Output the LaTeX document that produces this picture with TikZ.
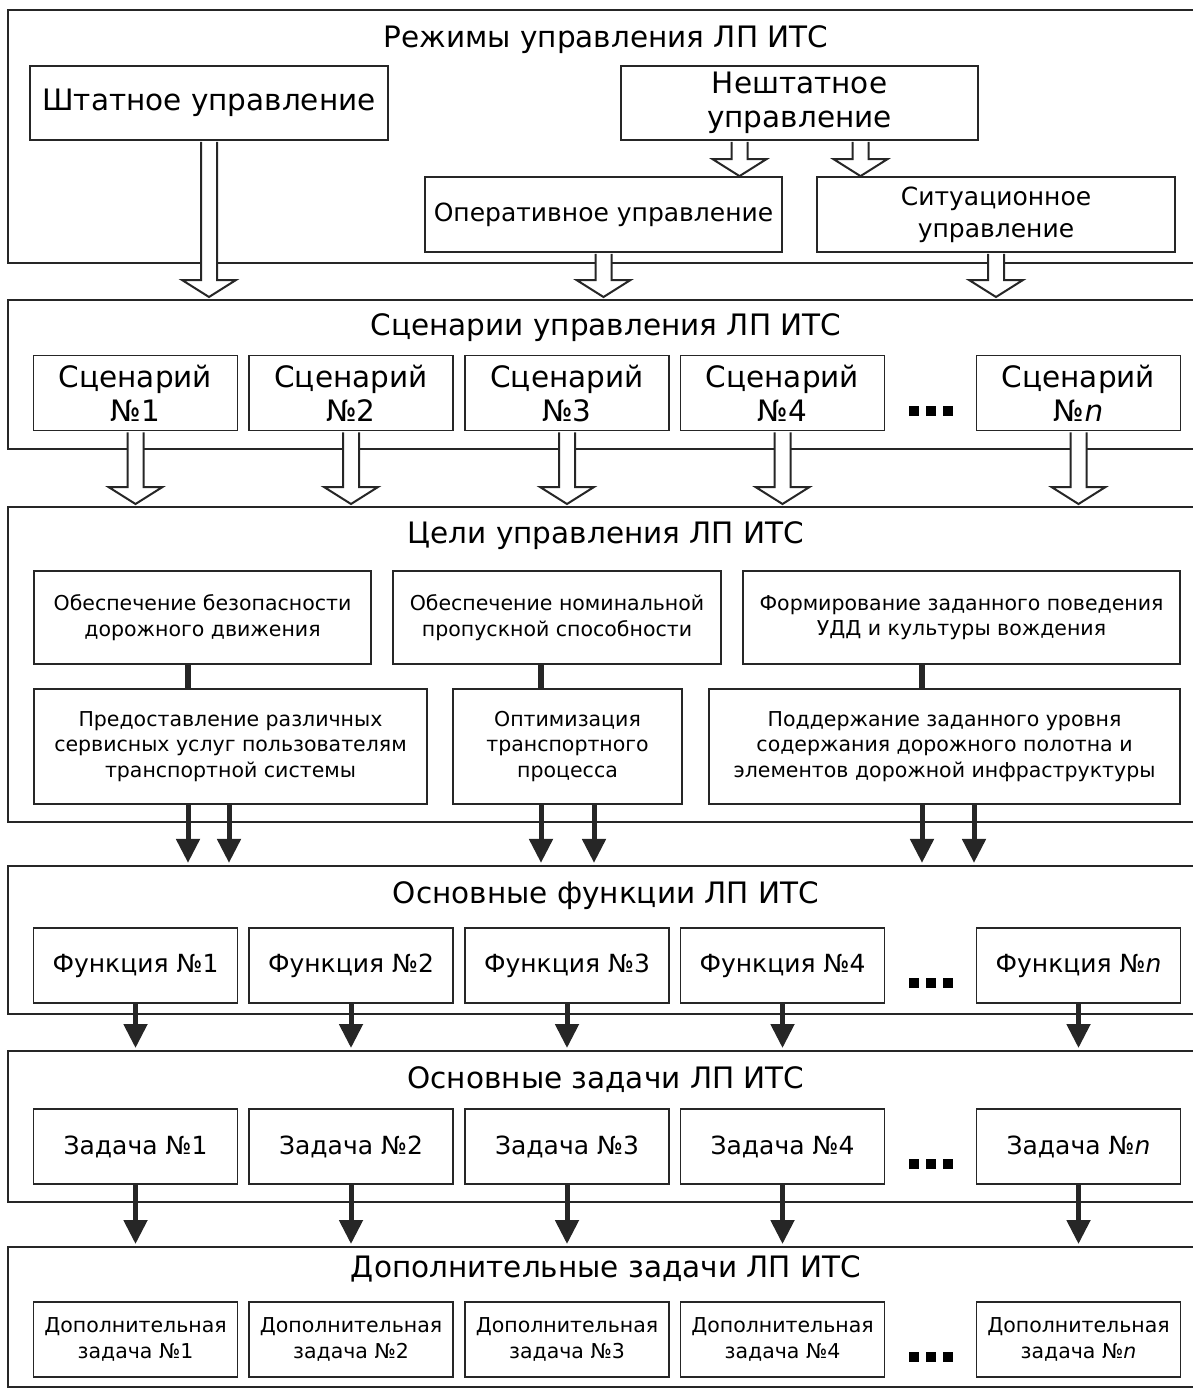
\documentclass[tikz,border=0pt]{standalone}
\usepackage{fontspec}
\setmainfont{DejaVu Sans}
\usetikzlibrary{arrows.meta,calc}

\tikzset{
  secframe/.style={draw=black!85, line width=1.8pt},
  sectitle/.style={font=\fontsize{29.5}{34}\selectfont, anchor=base},
  box/.style={draw=black!85, line width=1.8pt, inner sep=0pt, align=center},
  bigbox/.style={box, font=\fontsize{29.5}{34}\selectfont},
  midbox/.style={box, font=\fontsize{25}{32}\selectfont},
  goalbox/.style={box, font=\fontsize{20.5}{25.5}\selectfont},
  rowbox/.style={box, minimum width=204pt, minimum height=75pt},
  hollow/.style={draw=black!85, line width=2pt, fill=white, line join=miter},
  link/.style={draw=black!85, line width=6pt},
  blackarr/.style={draw=black!85, line width=5pt, -{Triangle[length=24pt, width=23pt]}},
}

% block arrow from #1 down to the height of #2
\newcommand{\hollowarrow}[2]{%
  \draw[hollow] let \p1=#1, \p2=#2 in
    (\x1-8pt,\y1-0.9pt) -- (\x1-8pt,\y2+17pt) -- (\x1-27pt,\y2+17pt) -- (\x1,\y2)
    -- (\x1+27pt,\y2+17pt) -- (\x1+8pt,\y2+17pt) -- (\x1+8pt,\y1-0.9pt);}
% three squares
\newcommand{\sqdots}[1]{%
  \foreach \dx in {914,931,948}
    {\fill[black] (\dx-5,#1-5) rectangle (\dx+5,#1+5);}}

\begin{document}
\begin{tikzpicture}[x=1pt, y=-1pt]
  \useasboundingbox (0,0) rectangle (1193,1389);

  % Section frames
  \draw[secframe] (1193,10) -| (8,263) -- (1193,263);
  \draw[secframe] (1193,300) -| (8,449) -- (1193,449);
  \draw[secframe] (1193,507) -| (8,822) -- (1193,822);
  \draw[secframe] (1193,866) -| (8,1014) -- (1193,1014);
  \draw[secframe] (1193,1051) -| (8,1202) -- (1193,1202);
  \draw[secframe] (1193,1247) -| (8,1387) -- (1193,1387);
  \coordinate (t2) at (0,297);
  \coordinate (t3) at (0,504);
  \coordinate (t4) at (0,863);
  \coordinate (t5) at (0,1048);
  \coordinate (t6) at (0,1244);

  % Modes
  \node[sectitle] (modes) at (606,48) {Режимы управления ЛП ИТС};
  \node[bigbox, minimum width=358pt, minimum height=74pt] (shtat) at (209,103) {Штатное управление};
  \node[bigbox, minimum width=357pt, minimum height=74pt] (nesht) at (799.5,103) {Нештатное\\управление};
  \node[midbox, minimum width=357pt, minimum height=75pt] (oper) at (603.5,214.5) {Оперативное управление};
  \node[midbox, minimum width=358pt, minimum height=75pt] (sit) at (996,214.5) {Ситуационное\\управление};
  \hollowarrow{([xshift=-60pt]nesht.south)}{(oper.north)}
  \hollowarrow{([xshift=61pt]nesht.south)}{(sit.north)}
  \hollowarrow{(shtat.south)}{(t2)}
  \hollowarrow{(oper.south)}{(t2)}
  \hollowarrow{(sit.south)}{(t2)}

  % Scenarios
  \node[sectitle] (scens) at (606,335) {Сценарии управления ЛП ИТС};
  \foreach \i/\x in {1/135.5,2/351,3/567,4/782.5}
    {\node[rowbox, bigbox] (sc\i) at (\x,393) {Сценарий\\№\i};}
  \node[rowbox, bigbox] (scn) at (1078.5,393) {Сценарий\\№\textit{n}};
  \sqdots{411}
  \foreach \i in {1,2,3,4,n}
    {\hollowarrow{(sc\i.south)}{(t3)}}

  % Goals
  \node[sectitle] (goals) at (606,543) {Цели управления ЛП ИТС};
  \node[goalbox, minimum width=337pt, minimum height=93pt] (g1) at (202.5,617.5) {Обеспечение безопасности\\дорожного движения};
  \node[goalbox, minimum width=328pt, minimum height=93pt] (g2) at (557,617.5) {Обеспечение номинальной\\пропускной способности};
  \node[goalbox, minimum width=437pt, minimum height=93pt] (g3) at (961.5,617.5) {Формирование заданного поведения\\УДД и культуры вождения};
  \node[goalbox, minimum width=393pt, minimum height=115pt] (h1) at (230.5,746.5) {Предоставление различных\\сервисных услуг пользователям\\транспортной системы};
  \node[goalbox, minimum width=229pt, minimum height=115pt] (h2) at (567.5,746.5) {Оптимизация\\транспортного\\процесса};
  \node[goalbox, minimum width=471pt, minimum height=115pt] (h3) at (944.5,746.5) {Поддержание заданного уровня\\содержания дорожного полотна и\\элементов дорожной инфраструктуры};
  \draw[link] ([xshift=-14.5pt]g1.south) -- ([xshift=-42.5pt]h1.north);
  \draw[link] ([xshift=-16pt]g2.south) -- ([xshift=-26.5pt]h2.north);
  \draw[link] ([xshift=-39.5pt]g3.south) -- ([xshift=-22.5pt]h3.north);
  \foreach \n/\dx in {h1/-42.5,h1/-1.5,h2/-26.5,h2/26.5,h3/-22.5,h3/29.5}
    {\draw[blackarr] ([xshift=\dx pt]\n.south) -- ++(0,58);}

  % Functions
  \node[sectitle] (funcs) at (606,903) {Основные функции ЛП ИТС};
  \foreach \i/\x in {1/135.5,2/351,3/567,4/782.5}
    {\node[rowbox, midbox] (f\i) at (\x,965.5) {Функция №\i};}
  \node[rowbox, midbox] (fn) at (1078.5,965.5) {Функция №\textit{n}};
  \sqdots{983}
  \foreach \i in {1,2,3,4,n}
    {\draw[blackarr] (f\i.south) -- (f\i.south |- t5);}

  % Tasks
  \node[sectitle] (tasks) at (606,1088) {Основные задачи ЛП ИТС};
  \foreach \i/\x in {1/135.5,2/351,3/567,4/782.5}
    {\node[rowbox, midbox] (z\i) at (\x,1146.5) {Задача №\i};}
  \node[rowbox, midbox] (zn) at (1078.5,1146.5) {Задача №\textit{n}};
  \sqdots{1164}
  \foreach \i in {1,2,3,4,n}
    {\draw[blackarr] (z\i.south) -- (z\i.south |- t6);}

  % Extra tasks
  \node[sectitle] (extra) at (606,1277) {Дополнительные задачи ЛП ИТС};
  \foreach \i/\x in {1/135.5,2/351,3/567,4/782.5}
    {\node[rowbox, goalbox] (d\i) at (\x,1339.5) {Дополнительная\\задача №\i};}
  \node[rowbox, goalbox] (dn) at (1078.5,1339.5) {Дополнительная\\задача №\textit{n}};
  \sqdots{1357}
\end{tikzpicture}
\end{document}
